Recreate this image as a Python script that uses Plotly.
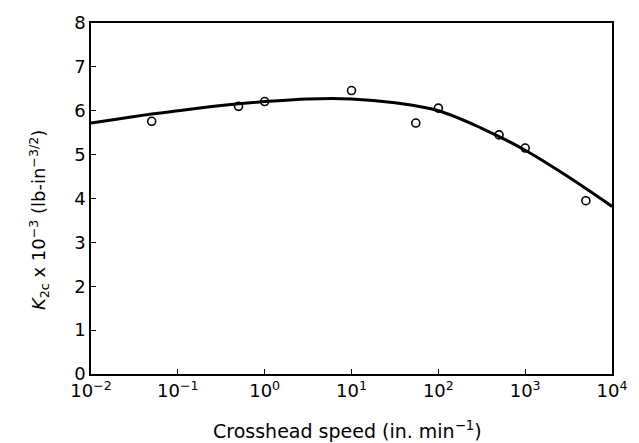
import plotly.graph_objects as go

# Measured data points
speed = [0.05, 0.5, 1.0, 10.0, 55.0, 100.0, 500.0, 1000.0, 5000.0]
k2c = [5.76, 6.10, 6.21, 6.46, 5.72, 6.06, 5.45, 5.15, 3.95]

# Fitted curve
curve_speed = [0.01, 0.0316, 0.1, 0.316, 1.0, 3.16, 10.0, 31.6, 100.0, 316.0, 1000.0, 3160.0, 10000.0]
curve_k2c = [5.72, 5.87, 6.00, 6.12, 6.21, 6.27, 6.27, 6.18, 6.00, 5.60, 5.10, 4.49, 3.82]

x_tickvals = [0.01, 0.1, 1, 10, 100, 1000, 10000]
x_ticktext = ["10<sup>−2</sup>", "10<sup>−1</sup>", "10<sup>0</sup>", "10<sup>1</sup>",
              "10<sup>2</sup>", "10<sup>3</sup>", "10<sup>4</sup>"]
y_tickvals = [0, 1, 2, 3, 4, 5, 6, 7, 8]

x_title = "Crosshead speed (in. min<sup>−1</sup>)"
y_title = "<i>K</i><sub>2c</sub> x 10<sup>−3</sup> (lb-in<sup>−3/2</sup>)"

FONT = "DejaVu Sans"

fig = go.Figure()
fig.add_trace(go.Scatter(
    x=curve_speed, y=curve_k2c, mode="lines",
    line=dict(color="black", width=3, shape="spline", smoothing=1.0),
    showlegend=False, hoverinfo="skip"))
fig.add_trace(go.Scatter(
    x=speed, y=k2c, mode="markers",
    marker=dict(symbol="circle-open", size=8, color="black", line=dict(width=1.6, color="black")),
    showlegend=False))

fig.update_layout(
    width=639, height=443,
    margin=dict(l=91, r=22, t=20, b=69),
    paper_bgcolor="white", plot_bgcolor="white",
    font=dict(family=FONT, size=16, color="black"),
)
fig.update_xaxes(
    type="log", range=[-2, 4],
    tickvals=x_tickvals, ticktext=x_ticktext,
    ticks="inside", ticklen=5, tickwidth=1.2, tickcolor="black",
    showline=True, linecolor="black", linewidth=1.5, mirror=True,
    showgrid=False, zeroline=False,
    tickfont=dict(family=FONT, size=18),
)
fig.update_yaxes(
    range=[0, 8], tickvals=y_tickvals,
    ticks="inside", ticklen=5, tickwidth=1.2, tickcolor="black",
    showline=True, linecolor="black", linewidth=1.5, mirror=True,
    showgrid=False, zeroline=False,
    tickfont=dict(family=FONT, size=18),
)

fig.add_annotation(text=x_title, xref="paper", yref="paper", x=0.492, y=-0.16,
                   xanchor="center", yanchor="middle", showarrow=False,
                   font=dict(family=FONT, size=19))
fig.add_annotation(text=y_title, xref="paper", yref="paper", x=-0.1008, y=0.44,
                   xanchor="center", yanchor="middle", textangle=-90, showarrow=False,
                   font=dict(family=FONT, size=18))

fig.write_html("out.html")
